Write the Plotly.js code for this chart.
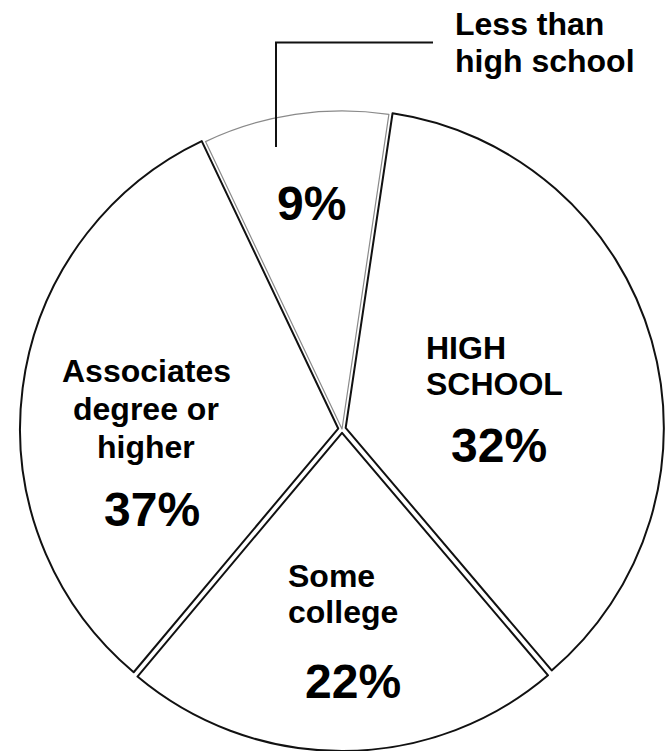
<!DOCTYPE html>
<html>
<head>
<meta charset="utf-8">
<script src="https://cdn.plot.ly/plotly-3.0.1.min.js"></script>
<style>html,body{margin:0;padding:0;background:#fff;}#chart{width:667px;height:751px;}</style>
</head>
<body>
<div id="chart"></div>
<script>
// Categories, in drawing order (clockwise from the "Less than high school" slice)
const categories = ["Less than high school", "High school", "Some college", "Associates degree or higher"];
// Printed percentages shown on the chart
const printedPercents = [9, 32, 22, 37];
// Slice shares as actually drawn in the picture (measured from the slice angles)
const sliceShares = [9.4, 36.4, 22.3, 31.8];
// Label lines as printed
const labelLines = [
  ["Less than", "high school"],
  ["HIGH", "SCHOOL"],
  ["Some", "college"],
  ["Associates", "degree or", "higher"]
];

const W = 667, H = 751;
const px = x => x / W;
const py = y => 1 - y / H;

const pieTrace = {
  type: "pie",
  labels: categories,
  values: sliceShares,
  sort: false,
  direction: "clockwise",
  rotation: -25.4,
  pull: [0, 0.012, 0.012, 0.012],
  textinfo: "none",
  hoverinfo: "label+percent",
  marker: {
    colors: ["#ffffff", "#ffffff", "#ffffff", "#ffffff"],
    line: { color: ["#8a8a8a", "#111111", "#111111", "#111111"], width: [1.2, 2, 2, 2] }
  },
  domain: { x: [0.0300, 0.9955], y: [0, 0.8575] },
  showlegend: false
};

const font = { family: "Liberation Sans, Arial, Helvetica, sans-serif", color: "#000" };
const labelSize = 32, pctSize = 48;

// Label placements (layout only): [x, y, anchor] per line
const labelPlacement = [
  { x: 453, ys: [24, 61], anchor: "left" },
  { x: 424, ys: [348, 384], anchor: "left" },
  { x: 286, ys: [576, 612], anchor: "left" },
  { x: 146, ys: [371, 409, 447], anchor: "center" }
];
const pctPlacement = [[311, 204], [499, 446], [353, 681], [152, 509]];

const annotations = [];
labelLines.forEach((lines, i) => {
  const p = labelPlacement[i];
  lines.forEach((t, j) => {
    annotations.push({
      text: "<b>" + t + "</b>", xref: "paper", yref: "paper",
      x: px(p.x), y: py(p.ys[j]), xanchor: p.anchor, yanchor: "middle",
      showarrow: false, font: Object.assign({ size: labelSize }, font)
    });
  });
});
printedPercents.forEach((v, i) => {
  annotations.push({
    text: "<b>" + v + "%</b>", xref: "paper", yref: "paper",
    x: px(pctPlacement[i][0]), y: py(pctPlacement[i][1]), xanchor: "center", yanchor: "middle",
    showarrow: false, font: Object.assign({ size: pctSize }, font)
  });
});

const layout = {
  width: W, height: H,
  margin: { l: 0, r: 0, t: 0, b: 0 },
  paper_bgcolor: "#ffffff",
  plot_bgcolor: "#ffffff",
  showlegend: false,
  annotations: annotations,
  shapes: [
    { type: "line", xref: "paper", yref: "paper", x0: px(276), y0: py(147), x1: px(276), y1: py(42.5), line: { color: "#111", width: 2 } },
    { type: "line", xref: "paper", yref: "paper", x0: px(275), y0: py(42.5), x1: px(433), y1: py(42.5), line: { color: "#111", width: 2 } }
  ]
};

Plotly.newPlot("chart", [pieTrace], layout, { displayModeBar: false, staticPlot: true });
</script>
</body>
</html>
